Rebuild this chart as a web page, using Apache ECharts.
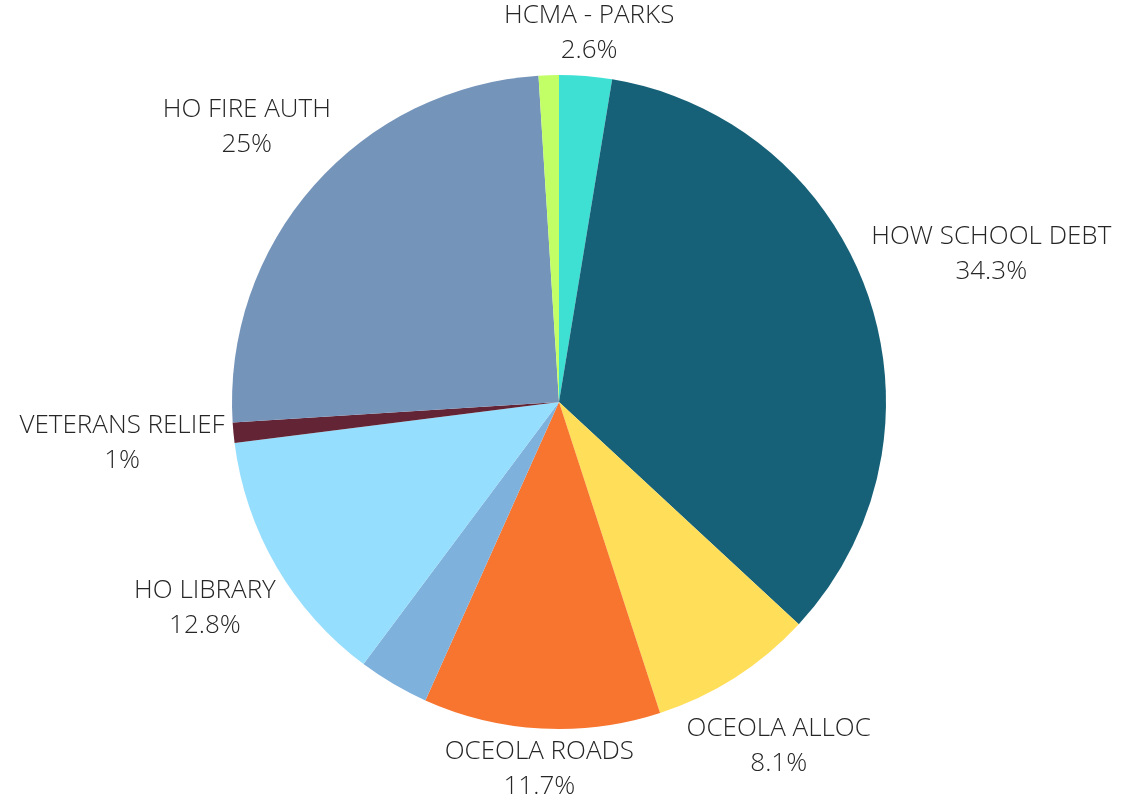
<!DOCTYPE html>
<html>
<head>
<meta charset="utf-8">
<script src="https://cdn.jsdelivr.net/npm/echarts@6/dist/echarts.min.js"></script>
<style>
html,body{margin:0;padding:0;background:#fff;}
#c{width:1123px;height:795px;}
</style>
</head>
<body>
<div id="c"></div>
<script>
var names = ['HCMA - PARKS', 'HOW SCHOOL DEBT', 'OCEOLA ALLOC', 'OCEOLA ROADS', 'OTHER', 'HO LIBRARY', 'VETERANS RELIEF', 'HO FIRE AUTH', 'OTHER 2'];
var values = [2.6, 34.3, 8.1, 11.7, 3.5, 12.8, 1, 25, 1];
var showLabel = [true, true, true, true, false, true, true, true, false];
var colors = ['#3FE0D4', '#176178', '#FFDE59', '#F7752E', '#7FB1DD', '#95DEFE', '#632535', '#7594BA', '#C2FF66'];

var CX = 559, CY = 402, R = 327;
var total = values.reduce(function (a, b) { return a + b; }, 0);
var midAngles = [];
(function () {
  var acc = 0;
  for (var i = 0; i < values.length; i++) {
    midAngles.push((acc + values[i] / 2) / total * Math.PI * 2);
    acc += values[i];
  }
})();

var chart = echarts.init(document.getElementById('c'));
chart.setOption({
  backgroundColor: '#ffffff',
  animation: false,
  series: [{
    type: 'pie',
    center: [CX, CY],
    radius: [0, R],
    startAngle: 90,
    clockwise: true,
    avoidLabelOverlap: false,
    label: {
      show: true,
      position: 'outside',
      fontFamily: 'Open Sans',
      fontWeight: 300,
      fontSize: 26,
      lineHeight: 35,
      color: '#262626',
      formatter: function (p) { return p.name + '\n' + p.value + '%'; }
    },
    labelLine: { show: false },
    labelLayout: function (p) {
      var a = midAngles[p.dataIndex];
      var s = Math.sin(a), c = Math.cos(a);
      var w = p.labelRect.width, h = p.labelRect.height;
      var d = R + 7 + (w / 2) * Math.abs(s) + (h / 2 - 6) * Math.abs(c);
      return {
        x: CX + d * s,
        y: CY - d * c,
        align: 'center',
        verticalAlign: 'middle'
      };
    },
    data: names.map(function (n, i) {
      return {
        name: n,
        value: values[i],
        itemStyle: { color: colors[i] },
        label: { show: showLabel[i] }
      };
    })
  }]
});
</script>
</body>
</html>
